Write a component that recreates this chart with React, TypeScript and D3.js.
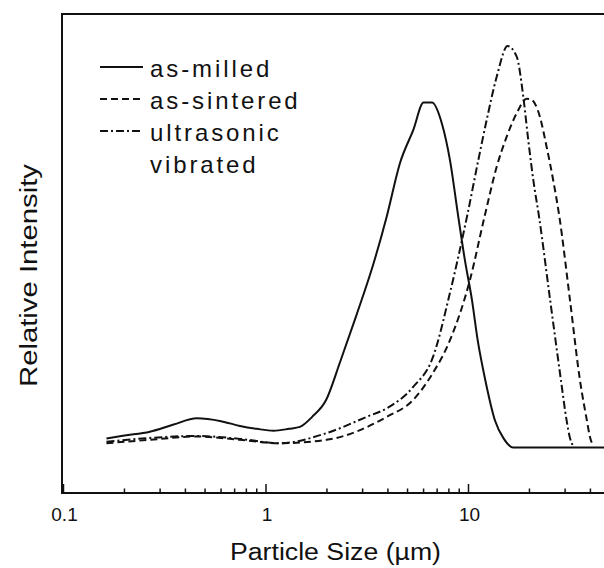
import React, { useEffect, useRef } from 'react';
import { select, scaleLog, scaleLinear, line, curveMonotoneX } from 'd3';

// particle size (um) and relative intensity (% of plot height)
const milledSize = [0.163, 0.2, 0.267, 0.35, 0.455, 0.6, 0.744, 0.9, 1.09, 1.3, 1.47, 1.69, 1.98, 2.32, 2.8, 3.39, 3.95, 4.59, 5.34, 6.0, 6.6, 7.38, 8.1, 8.9, 9.6, 10.4, 11.1, 12.1, 13.5, 14.9, 16.6, 50];
const milledLevel = [11.4, 12.0, 12.8, 14.3, 15.6, 15.0, 14.0, 13.4, 13.0, 13.4, 13.8, 15.9, 19.4, 27.3, 37.2, 47.8, 57.8, 68.9, 75.8, 81.5, 81.5, 77.2, 69.5, 57.7, 48.6, 40.3, 31.9, 23.6, 15.2, 11.4, 9.5, 9.5];

const sinteredSize = [0.163, 0.267, 0.455, 0.744, 1.17, 1.99, 3.95, 5.32, 6.68, 8.1, 10.17, 12.0, 13.78, 15.44, 17.3, 19.39, 20.5, 22.5, 24.3, 26.2, 28.1, 31.7, 35.5, 38.4, 39.8, 41.3];
const sinteredLevel = [10.4, 11.1, 11.8, 11.1, 10.4, 11.1, 15.9, 19.4, 25.1, 31.9, 44.5, 57.7, 68.1, 74.4, 79.3, 82.3, 82.1, 78.6, 72.3, 65.3, 57.7, 40.3, 23.6, 15.2, 11.7, 9.8];

const vibratedSize = [0.163, 0.267, 0.455, 0.744, 1.17, 1.99, 3.14, 3.95, 5.32, 6.68, 8.1, 9.83, 11.18, 12.3, 13.78, 15.6, 17.3, 18.65, 19.74, 20.9, 22.3, 25.3, 28.6, 30.5, 31.7, 32.9];
const vibratedLevel = [10.7, 11.5, 11.9, 11.3, 10.4, 12.5, 15.9, 17.7, 22.1, 28.4, 41.8, 57.7, 69.5, 77.9, 86.9, 93.3, 91.1, 82.7, 73.6, 65.3, 57.7, 40.3, 23.6, 15.2, 11.5, 9.8];

const seriesNames = ['as-milled', 'as-sintered', 'ultrasonic'];
const seriesDash = ['none', '7,4', '8,3,2,3'];
const tickValues = [0.1, 1, 10];
const tickLabels = ['0.1', '1', '10'];

const font = '"Liberation Sans", Arial, Helvetica, sans-serif';

export default function App() {
  const svgRef = useRef<SVGSVGElement>(null);

  useEffect(() => {
    const svg = select(svgRef.current);
    svg.selectAll('*').remove();

    const left = 63.5;
    const top = 14;
    const bottom = 493;
    const xScale = scaleLog().domain([0.1, 100]).range([left, left + 3 * 202.5]);
    const yScale = scaleLinear().domain([0, 100]).range([bottom, top]);

    const series = [
      milledSize.map((s, i) => [s, milledLevel[i]]),
      sinteredSize.map((s, i) => [s, sinteredLevel[i]]),
      vibratedSize.map((s, i) => [s, vibratedLevel[i]]),
    ];

    const curve = line<number[]>()
      .x(d => xScale(d[0]))
      .y(d => yScale(d[1]))
      .curve(curveMonotoneX);

    svg
      .selectAll('.curve')
      .data(series)
      .join('path')
      .attr('class', 'curve')
      .attr('d', curve)
      .attr('fill', 'none')
      .attr('stroke', '#111')
      .attr('stroke-width', 2)
      .attr('stroke-dasharray', (d, i) => seriesDash[i]);

    // frame
    svg
      .append('rect')
      .attr('x', xScale(0.1) - 1.5)
      .attr('y', top)
      .attr('width', xScale(100) - xScale(0.1) + 20)
      .attr('height', bottom - top)
      .attr('fill', 'none')
      .attr('stroke', '#111')
      .attr('stroke-width', 2);

    // inward ticks on the log axis
    svg
      .selectAll('.tick')
      .data(xScale.ticks())
      .join('line')
      .attr('class', 'tick')
      .attr('x1', d => xScale(d))
      .attr('x2', d => xScale(d))
      .attr('y1', bottom)
      .attr('y2', d => (Math.abs(Math.log10(d) - Math.round(Math.log10(d))) < 1e-6 ? bottom - 9 : bottom - 4.5))
      .attr('stroke', '#111')
      .attr('stroke-width', 1.5);

    svg
      .selectAll('.ticklabel')
      .data(tickValues)
      .join('text')
      .attr('class', 'ticklabel')
      .attr('x', d => xScale(d) + 1)
      .attr('y', 521)
      .attr('text-anchor', 'middle')
      .attr('font-family', font)
      .attr('font-size', 19)
      .attr('fill', '#111')
      .text((d, i) => tickLabels[i]);

    svg
      .append('text')
      .attr('x', 230)
      .attr('y', 560)
      .attr('textLength', 211)
      .attr('lengthAdjust', 'spacingAndGlyphs')
      .attr('font-family', font)
      .attr('font-size', 23)
      .attr('fill', '#111')
      .text('Particle Size (\u00b5m)');

    svg
      .append('text')
      .attr('transform', 'translate(37,387) rotate(-90)')
      .attr('textLength', 223)
      .attr('lengthAdjust', 'spacingAndGlyphs')
      .attr('font-family', font)
      .attr('font-size', 23)
      .attr('fill', '#111')
      .text('Relative Intensity');

    // legend
    const legendY = [76.5, 108.5, 140.5];
    const legend = svg
      .selectAll('.legend')
      .data(seriesNames)
      .join('g')
      .attr('class', 'legend')
      .attr('transform', (d, i) => `translate(0,${legendY[i]})`);
    legend
      .append('line')
      .attr('x1', 100)
      .attr('x2', 143)
      .attr('y1', -9.5)
      .attr('y2', -9.5)
      .attr('stroke', '#111')
      .attr('stroke-width', 2)
      .attr('stroke-dasharray', (d, i) => seriesDash[i]);
    legend
      .append('text')
      .attr('x', 150)
      .attr('font-family', font)
      .attr('font-size', 24)
      .attr('letter-spacing', 2.9)
      .attr('fill', '#111')
      .text(d => d);
    svg
      .append('text')
      .attr('x', 150)
      .attr('y', 172.5)
      .attr('font-family', font)
      .attr('font-size', 24)
      .attr('letter-spacing', 2.9)
      .attr('fill', '#111')
      .text('vibrated');
  }, []);

  return (
    <svg
      ref={svgRef}
      width={604}
      height={568}
      style={{ position: 'absolute', left: 0, top: 0, background: '#fff' }}
    ></svg>
  );
}
